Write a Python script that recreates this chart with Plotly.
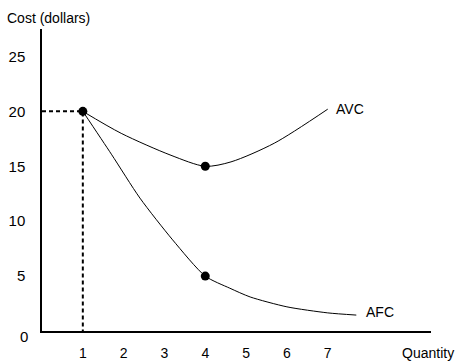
import plotly.graph_objects as go

# Data
avc_x = [1, 1.94, 3.16, 4, 4.63, 5.69, 7.0]
avc_y = [20, 18.0, 16.0, 15.0, 15.4, 17.1, 20.2]
afc_x = [1, 1.7, 2.4, 3.2, 4, 4.6, 5.1, 6, 7, 7.7]
afc_y = [20, 16.1, 12.1, 8.3, 5.0, 3.9, 3.1, 2.2, 1.65, 1.45]
pts_x = [1, 4, 4]
pts_y = [20, 15, 5]
x_ticks = [1, 2, 3, 4, 5, 6, 7]
y_ticks = [5, 10, 15, 20, 25]
labels = ["AVC", "AFC"]
label_x = [7.15, 7.9]
label_y = [20.2, 1.7]

font = "Liberation Sans, Arial, sans-serif"
fig = go.Figure()
# dashed guides
fig.add_trace(go.Scatter(x=[0, 1, 1], y=[20, 20, 0], mode="lines",
                         line=dict(color="black", width=2, dash="4px,3px"), hoverinfo="skip"))
fig.add_trace(go.Scatter(x=avc_x, y=avc_y, mode="lines",
                         line=dict(color="black", width=1, shape="spline", smoothing=0.8)))
fig.add_trace(go.Scatter(x=afc_x, y=afc_y, mode="lines",
                         line=dict(color="black", width=1, shape="spline", smoothing=0.7)))
fig.add_trace(go.Scatter(x=pts_x, y=pts_y, mode="markers",
                         marker=dict(color="black", size=9)))

for t, lx, ly in zip(labels, label_x, label_y):
    fig.add_annotation(x=lx, y=ly, text=t, showarrow=False, xanchor="left", yanchor="middle",
                       font=dict(size=14, color="black", family=font))

fig.add_annotation(xref="paper", yref="paper", x=-0.095, y=1.0, yshift=1, text="Cost (dollars)",
                   showarrow=False, xanchor="left", yanchor="bottom",
                   font=dict(size=14, color="black", family=font))
fig.add_annotation(xref="paper", yref="paper", x=1.0, y=0, yshift=-12, xshift=25, text="Quantity",
                   showarrow=False, xanchor="right", yanchor="top",
                   font=dict(size=14, color="black", family=font))
fig.add_annotation(x=0, y=0, xshift=-12, yshift=-5, text="0", showarrow=False,
                   xanchor="right", yanchor="middle",
                   font=dict(size=15, color="black", family=font))

fig.update_layout(
    width=457, height=361, showlegend=False,
    margin=dict(l=42, r=26, t=29, b=30, autoexpand=False),
    paper_bgcolor="white", plot_bgcolor="white",
    xaxis=dict(range=[0, 9.53], tickvals=x_ticks, ticktext=[str(v) for v in x_ticks],
               showgrid=False, zeroline=False, showline=True, linecolor="black", linewidth=1.5,
               ticks="", ticklabelstandoff=8, automargin=False,
               tickfont=dict(size=14, color="black", family=font)),
    yaxis=dict(range=[0, 27.5], tickvals=y_ticks, ticktext=[str(v) for v in y_ticks],
               showgrid=False, zeroline=False, showline=True, linecolor="black", linewidth=1.5,
               ticks="", ticklabelstandoff=12, automargin=False,
               tickfont=dict(size=15, color="black", family=font)),
)
fig.write_html("out.html", config={"displayModeBar": False},
               post_script="document.body.style.margin='0';document.body.style.overflow='hidden';")
